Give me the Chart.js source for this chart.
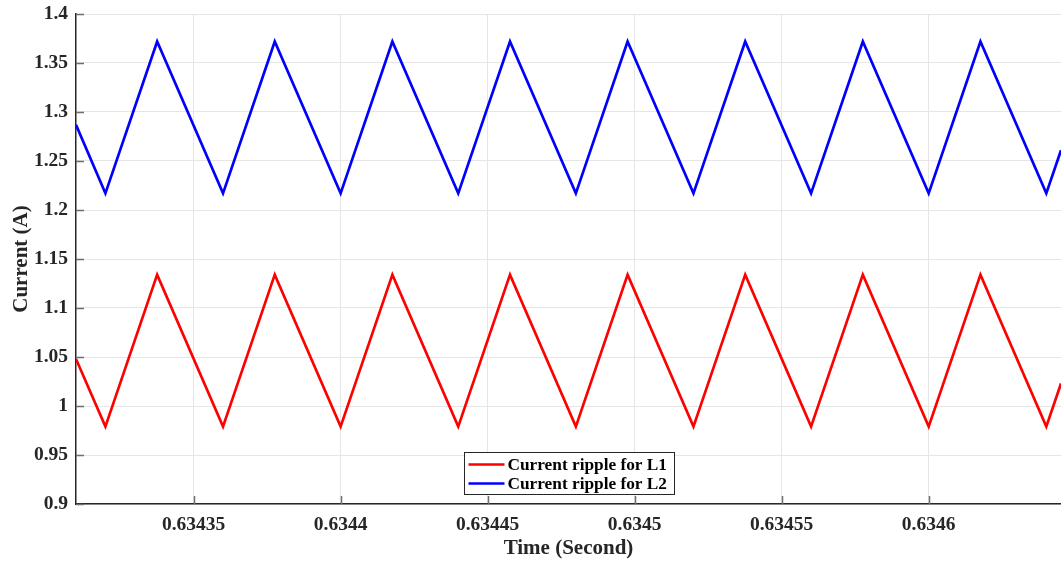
<!DOCTYPE html>
<html>
<head>
<meta charset="utf-8">
<script src="https://cdn.jsdelivr.net/npm/chart.js@4"></script>
<style>
  body { margin: 0; background: #fff; }
  #wrap { width: 1061px; height: 561px; position: relative; }
</style>
</head>
<body>
<div id="wrap"><canvas id="rippleChart"></canvas></div>
<script>
// vertex times (s) of the triangular ripple
const times = [0.63431, 0.63432, 0.6343376, 0.63436, 0.6343776, 0.6344, 0.6344176, 0.63444, 0.6344576,
               0.63448, 0.6344976, 0.63452, 0.6345376, 0.63456, 0.6345776, 0.6346, 0.6346176, 0.63464, 0.634645];
const l1Current = [1.048, 0.979, 1.134, 0.979, 1.134, 0.979, 1.134, 0.979, 1.134,
                   0.979, 1.134, 0.979, 1.134, 0.979, 1.134, 0.979, 1.134, 0.979, 1.023];
const l2Current = [1.287, 1.217, 1.372, 1.217, 1.372, 1.217, 1.372, 1.217, 1.372,
                   1.217, 1.372, 1.217, 1.372, 1.217, 1.372, 1.217, 1.372, 1.217, 1.261];
const seriesNames = ['Current ripple for L1', 'Current ripple for L2'];
const xTicks = [0.63435, 0.6344, 0.63445, 0.6345, 0.63455, 0.6346];
const xTickLabels = ['0.63435', '0.6344', '0.63445', '0.6345', '0.63455', '0.6346'];
const yTicks = [0.9, 0.95, 1, 1.05, 1.1, 1.15, 1.2, 1.25, 1.3, 1.35, 1.4];
const yTickLabels = ['0.9', '0.95', '1', '1.05', '1.1', '1.15', '1.2', '1.25', '1.3', '1.35', '1.4'];

const FONT = '"Liberation Serif", "Times New Roman", serif';
const AXIS_COLOR = '#262626';

// MATLAB style: tick marks pointing into the plot
const innerTicks = {
    id: 'innerTicks',
    afterDatasetsDraw(chart) {
        const { ctx, chartArea, scales } = chart;
        ctx.save();
        ctx.strokeStyle = '#6e6e6e';
        ctx.lineWidth = 1.5;
        ctx.beginPath();
        yTicks.forEach(v => {
            const y = Math.round(scales.y.getPixelForValue(v)) + 0.5;
            ctx.moveTo(chartArea.left, y);
            ctx.lineTo(chartArea.left + 8, y);
        });
        xTicks.forEach(v => {
            const x = Math.round(scales.x.getPixelForValue(v)) + 0.5;
            ctx.moveTo(x, chartArea.bottom);
            ctx.lineTo(x, chartArea.bottom - 8);
        });
        ctx.stroke();
        ctx.restore();
    }
};

// boxed legend inside the plot, bottom centre
const boxLegend = {
    id: 'boxLegend',
    afterDraw(chart) {
        const { ctx, chartArea } = chart;
        const w = 210, h = 42;
        const cx = (chartArea.left + chartArea.right) / 2;
        const left = Math.round(cx - w / 2) + 0.5;
        const top = Math.round(chartArea.bottom - 10 - h) + 0.5;
        ctx.save();
        ctx.fillStyle = '#fff';
        ctx.fillRect(left, top, w, h);
        ctx.strokeStyle = AXIS_COLOR;
        ctx.lineWidth = 1;
        ctx.strokeRect(left, top, w, h);
        ctx.font = 'bold 17.3px ' + FONT;
        ctx.textBaseline = 'middle';
        chart.data.datasets.forEach((ds, i) => {
            const y = top + 12 + i * 19;
            ctx.strokeStyle = ds.borderColor;
            ctx.lineWidth = 2.5;
            ctx.beginPath();
            ctx.moveTo(left + 4, y);
            ctx.lineTo(left + 40, y);
            ctx.stroke();
            ctx.fillStyle = '#000';
            ctx.fillText(ds.label, left + 43, y + 1);
        });
        ctx.restore();
    }
};

const toPoints = vals => vals.map((v, i) => ({ x: times[i], y: v }));

new Chart(document.getElementById('rippleChart'), {
    type: 'line',
    data: {
        datasets: [{
            label: seriesNames[0],
            data: toPoints(l1Current),
            borderColor: '#ff0000',
            borderWidth: 2.7,
            pointRadius: 0,
            tension: 0
        }, {
            label: seriesNames[1],
            data: toPoints(l2Current),
            borderColor: '#0000ff',
            borderWidth: 2.7,
            pointRadius: 0,
            tension: 0
        }]
    },
    plugins: [innerTicks, boxLegend],
    options: {
        responsive: true,
        maintainAspectRatio: false,
        animation: false,
        layout: { padding: { top: 14, right: 0, left: 0, bottom: 0 } },
        plugins: { legend: { display: false }, tooltip: { enabled: false } },
        scales: {
            x: {
                type: 'linear',
                min: 0.63431,
                max: 0.634645,
                afterBuildTicks: s => { s.ticks = xTicks.map(v => ({ value: v })); },
                afterFit: s => { s.height = 57; s.paddingLeft = 0; s.paddingRight = 0; },
                grid: { color: '#e6e6e6', lineWidth: 1, drawTicks: false },
                border: { color: AXIS_COLOR, width: 1.5 },
                ticks: {
                    callback: (v, i) => xTickLabels[i],
                    color: AXIS_COLOR,
                    padding: 9,
                    maxRotation: 0,
                    font: { family: FONT, size: 19.5, weight: 'bold' }
                },
                title: {
                    display: true,
                    text: 'Time (Second)',
                    color: AXIS_COLOR,
                    padding: 0,
                    font: { family: FONT, size: 21, weight: 'bold' }
                }
            },
            y: {
                min: 0.9,
                max: 1.4,
                afterBuildTicks: s => { s.ticks = yTicks.map(v => ({ value: v })); },
                afterFit: s => { s.width = 76; s.paddingTop = 0; s.paddingBottom = 0; },
                grid: { color: '#e6e6e6', lineWidth: 1, drawTicks: false },
                border: { color: AXIS_COLOR, width: 1.5 },
                ticks: {
                    callback: (v, i) => yTickLabels[i],
                    color: AXIS_COLOR,
                    padding: 8,
                    font: { family: FONT, size: 19.5, weight: 'bold' }
                },
                title: {
                    display: true,
                    text: 'Current (A)',
                    color: AXIS_COLOR,
                    padding: { top: 9, bottom: 0 },
                    font: { family: FONT, size: 21, weight: 'bold' }
                }
            }
        }
    }
});
</script>
</body>
</html>
